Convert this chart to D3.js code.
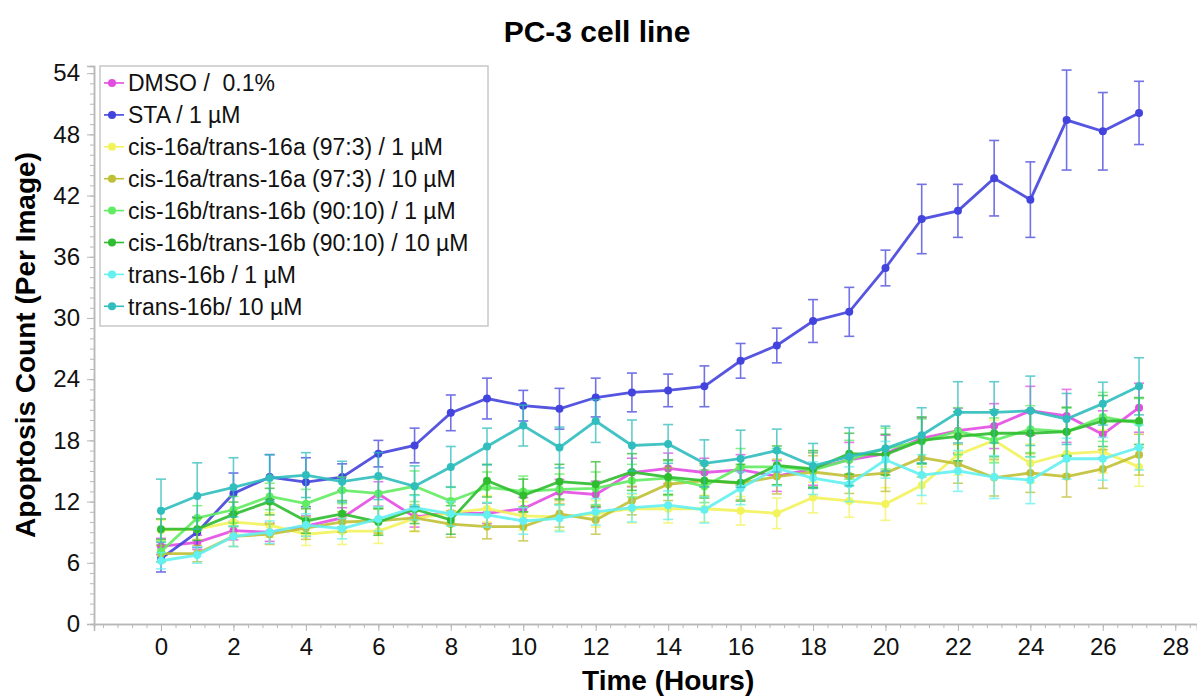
<!DOCTYPE html>
<html>
<head>
<meta charset="utf-8">
<script src="https://cdn.jsdelivr.net/npm/d3@7"></script>
<style>
  body { margin: 0; background: #fff; }
  #chart { width: 1197px; height: 699px; }
  text { font-family: Arial, "Liberation Sans", sans-serif; }
</style>
</head>
<body>
<div id="chart"></div>
<script>
// time points (hours)
const hours = [0,1,2,3,4,5,6,7,8,9,10,11,12,13,14,15,16,17,18,19,20,21,22,23,24,25,26,27];

const seriesNames = [
  "DMSO /  0.1%",
  "STA / 1 \u00b5M",
  "cis-16a/trans-16a (97:3) / 1 \u00b5M",
  "cis-16a/trans-16a (97:3) / 10 \u00b5M",
  "cis-16b/trans-16b (90:10) / 1 \u00b5M",
  "cis-16b/trans-16b (90:10) / 10 \u00b5M",
  "trans-16b / 1 \u00b5M",
  "trans-16b/ 10 \u00b5M"
];
const seriesColors = ["#e34ce3", "#4343dd", "#f3f35c", "#c0c034", "#62ec62", "#2fbd2f", "#62f0f0", "#2fbdbd"];

// mean counts
const dmso   = [7.6, 8.0, 9.15, 9.0, 9.6, 10.4, 12.75, 10.5, 10.9, 10.85, 11.3, 12.97, 12.7, 14.85, 15.25, 14.85, 15.1, 14.5, 15.2, 16.1, 16.7, 18.2, 18.95, 19.4, 20.9, 20.4, 18.6, 21.2];
const sta    = [6.4, 9.0, 12.8, 14.4, 13.9, 14.4, 16.7, 17.5, 20.7, 22.1, 21.4, 21.1, 22.2, 22.7, 22.9, 23.3, 25.8, 27.3, 29.7, 30.6, 34.9, 39.7, 40.5, 43.7, 41.6, 49.4, 48.3, 50.1];
const c16a1  = [9.2, 9.3, 10.0, 9.7, 8.8, 9.1, 9.1, 10.35, 10.9, 11.3, 10.6, 10.5, 10.8, 11.3, 11.3, 11.3, 11.1, 10.85, 12.4, 12.06, 11.76, 13.6, 16.6, 18.0, 15.75, 16.7, 16.9, 15.4];
const c16a10 = [6.9, 6.9, 8.6, 8.8, 9.4, 10.0, 10.1, 10.4, 9.8, 9.55, 9.55, 10.8, 10.2, 12.1, 13.7, 14.05, 13.8, 14.45, 14.9, 14.5, 14.8, 16.3, 15.7, 14.35, 14.8, 14.45, 15.2, 16.6];
const c16b1  = [7.1, 10.4, 11.2, 12.5, 11.8, 13.1, 12.8, 13.5, 12.06, 13.4, 13.0, 13.2, 13.3, 14.05, 14.3, 13.5, 15.4, 15.4, 15.1, 16.1, 17.2, 17.9, 18.9, 18.0, 19.1, 18.85, 20.3, 19.7];
const c16b10 = [9.3, 9.3, 10.75, 12.0, 10.1, 10.8, 10.0, 11.25, 10.2, 14.05, 12.6, 13.95, 13.7, 14.9, 14.4, 14.05, 13.85, 15.55, 15.2, 16.7, 16.6, 18.0, 18.4, 18.7, 18.7, 18.85, 19.9, 19.9];
const t16b1  = [6.2, 6.76, 8.6, 9.0, 9.7, 9.35, 10.3, 11.4, 10.8, 10.7, 10.1, 10.36, 11.0, 11.4, 11.65, 11.2, 13.3, 15.25, 14.3, 13.7, 16.1, 14.6, 15.0, 14.4, 14.1, 16.2, 16.2, 17.3];
const t16b10 = [11.1, 12.55, 13.4, 14.3, 14.6, 13.95, 14.5, 13.5, 15.4, 17.4, 19.45, 17.3, 19.9, 17.5, 17.65, 15.75, 16.2, 17.0, 15.5, 16.4, 17.2, 18.5, 20.75, 20.75, 20.9, 20.1, 21.6, 23.3];

// error bar half-heights (estimated)
const dmsoErr   = [0.8, 0.7, 0.9, 0.9, 1.0, 1.0, 1.2, 1.0, 1.1, 1.0, 1.1, 1.2, 1.3, 1.4, 1.5, 1.4, 1.5, 1.5, 1.6, 1.7, 1.8, 2.0, 2.2, 2.2, 2.4, 2.6, 2.3, 2.4];
const staErr    = [1.3, 1.5, 2.0, 2.2, 2.4, 1.3, 1.3, 1.7, 1.75, 2.0, 1.5, 2.0, 1.9, 1.9, 1.6, 2.0, 1.7, 1.7, 2.1, 2.4, 1.75, 3.4, 2.6, 3.7, 3.7, 4.9, 3.8, 3.1];
const c16a1Err  = [1.0, 1.0, 1.1, 1.2, 1.1, 1.3, 1.2, 1.3, 1.2, 1.3, 1.4, 1.3, 1.3, 1.4, 1.4, 1.3, 1.4, 1.5, 1.5, 1.6, 1.6, 1.8, 2.0, 2.0, 1.9, 2.0, 2.1, 1.9];
const c16a10Err = [0.8, 0.8, 1.0, 1.0, 1.1, 1.0, 1.2, 1.3, 1.3, 1.2, 1.4, 1.3, 1.4, 1.4, 1.6, 1.5, 1.6, 1.7, 1.6, 1.7, 1.8, 1.9, 1.9, 1.8, 1.9, 2.0, 1.9, 2.0];
const c16b1Err  = [1.0, 1.2, 1.3, 1.3, 1.4, 1.3, 1.4, 1.5, 1.4, 1.5, 1.5, 1.5, 1.6, 1.6, 1.7, 1.6, 1.8, 1.8, 1.7, 1.9, 2.0, 2.2, 2.3, 2.2, 2.3, 2.3, 2.4, 2.4];
const c16b10Err = [1.0, 1.1, 1.2, 1.3, 1.2, 1.3, 1.3, 1.4, 1.4, 1.6, 1.6, 1.7, 2.2, 1.8, 1.7, 1.7, 1.8, 1.9, 1.8, 2.0, 2.0, 2.3, 2.4, 2.3, 2.3, 2.4, 2.5, 2.3];
const t16b1Err  = [0.8, 0.8, 1.0, 1.1, 1.1, 1.0, 1.2, 1.2, 1.2, 1.2, 1.3, 1.3, 1.3, 1.4, 1.4, 1.3, 1.6, 1.7, 1.6, 1.7, 1.8, 2.0, 2.0, 2.1, 2.3, 2.0, 2.1, 2.2];
const t16b10Err = [3.1, 3.25, 2.9, 2.3, 2.2, 2.0, 2.3, 2.0, 2.0, 1.8, 2.0, 2.0, 2.1, 2.5, 1.9, 2.3, 2.8, 2.1, 2.2, 2.85, 2.2, 2.7, 3.0, 3.0, 3.4, 2.5, 2.1, 2.8];

const xTicks = [0,2,4,6,8,10,12,14,16,18,20,22,24,26,28];
const yTicks = [0,6,12,18,24,30,36,42,48,54];

class LineChartD3 {
    margin = {top: 66, right: 0, bottom: 75, left: 94};
    svg;
    g;
    width;
    height;
    xScale;
    yScale;
    dotRadius = 4;
    capHalf = 5;

    constructor(el){
        this.el = el;
    }

    create(config){
        this.width = config.width - this.margin.left - this.margin.right;
        this.height = config.height - this.margin.top - this.margin.bottom;

        this.svg = d3.select(this.el).append("svg")
            .attr("width", config.width)
            .attr("height", config.height);
        this.g = this.svg.append("g")
            .attr("transform", "translate(" + this.margin.left + "," + this.margin.top + ")");

        this.xScale = d3.scaleLinear().domain([-1.85, 28.6]).range([0, this.width]);
        this.yScale = d3.scaleLinear().domain([0, 54.7]).range([this.height, 0]);

        this.svg.append("text")
            .attr("x", 597)
            .attr("y", 42)
            .attr("text-anchor", "middle")
            .style("font-size", "30px")
            .style("font-weight", "bold")
            .text("PC-3 cell line");
    }

    renderAxes(){
        const axisColor = "#b8b8b8";
        // minor ticks first
        const xMinor = d3.range(-1.6, 28.61, 0.4);
        const yMinor = d3.range(0, 54.7, 1);

        const xAxisG = this.g.append("g").attr("transform", "translate(0," + this.height + ")");
        xAxisG.call(d3.axisBottom(this.xScale).tickValues(xMinor).tickSize(4).tickFormat(""));
        const xMajor = this.g.append("g").attr("transform", "translate(0," + this.height + ")")
            .call(d3.axisBottom(this.xScale).tickValues(xTicks).tickSize(7).tickPadding(7));
        xMajor.selectAll("text").style("font-size", "24px").attr("fill", "#111");

        const yAxisG = this.g.append("g");
        yAxisG.call(d3.axisLeft(this.yScale).tickValues(yMinor).tickSize(4).tickFormat(""));
        const yMajor = this.g.append("g")
            .call(d3.axisLeft(this.yScale).tickValues(yTicks).tickSize(7).tickPadding(7));
        yMajor.selectAll("text").style("font-size", "24px").attr("fill", "#111");

        this.g.selectAll(".domain").attr("stroke", axisColor).attr("stroke-width", 1.5);
        this.g.selectAll(".tick line").attr("stroke", axisColor);

        this.svg.append("text")
            .attr("x", this.margin.left + this.xScale(14))
            .attr("y", 690)
            .attr("text-anchor", "middle")
            .style("font-size", "28px")
            .style("font-weight", "bold")
            .text("Time (Hours)");

        this.svg.append("text")
            .attr("transform", "translate(35," + (this.margin.top + this.height / 2) + ") rotate(-90)")
            .attr("text-anchor", "middle")
            .style("font-size", "28px")
            .style("font-weight", "bold")
            .text("Apoptosis Count (Per Image)");
    }

    renderSeries(series){
        const line = d3.line()
            .x(d => this.xScale(d.t))
            .y(d => this.yScale(d.v));

        const seriesG = this.g.selectAll(".seriesG")
            .data(series)
            .join("g")
            .attr("class", "seriesG");

        seriesG.each((s, i, nodes) => {
            const sg = d3.select(nodes[i]);
            // error bars
            const errG = sg.append("g")
                .attr("stroke", s.color)
                .attr("stroke-width", 1.6)
                .attr("opacity", 0.75);
            s.points.forEach(p => {
                const x = this.xScale(p.t);
                const y0 = this.yScale(p.v - p.e);
                const y1 = this.yScale(p.v + p.e);
                errG.append("line").attr("x1", x).attr("x2", x).attr("y1", y0).attr("y2", y1);
                errG.append("line").attr("x1", x - this.capHalf).attr("x2", x + this.capHalf).attr("y1", y0).attr("y2", y0);
                errG.append("line").attr("x1", x - this.capHalf).attr("x2", x + this.capHalf).attr("y1", y1).attr("y2", y1);
            });

            sg.append("path")
                .datum(s.points)
                .attr("fill", "none")
                .attr("stroke", s.color)
                .attr("stroke-width", 2.8)
                .attr("opacity", 0.9)
                .attr("d", line);

            sg.selectAll(".dot")
                .data(s.points)
                .join("circle")
                .attr("class", "dot")
                .attr("cx", d => this.xScale(d.t))
                .attr("cy", d => this.yScale(d.v))
                .attr("r", this.dotRadius)
                .attr("fill", s.color);
        });
    }

    renderLegend(series){
        const lg = this.svg.append("g").attr("transform", "translate(100,66)");
        lg.append("rect")
            .attr("width", 388)
            .attr("height", 260)
            .attr("fill", "#fff")
            .attr("stroke", "#c8c8c8")
            .attr("stroke-width", 1.5);

        const item = lg.selectAll(".legItem")
            .data(series)
            .join("g")
            .attr("class", "legItem")
            .attr("transform", (d, i) => "translate(0," + (17 + i * 31.9) + ")");
        item.append("line")
            .attr("x1", 4).attr("x2", 24)
            .attr("stroke", d => d.color)
            .attr("stroke-width", 1.6);
        item.append("circle")
            .attr("cx", 12).attr("r", 4)
            .attr("fill", d => d.color);
        item.append("text")
            .attr("x", 28)
            .attr("dy", "0.36em")
            .style("font-size", "23px")
            .style("white-space", "pre")
            .attr("fill", "#111")
            .text(d => d.name);
    }
}

const means = [dmso, sta, c16a1, c16a10, c16b1, c16b10, t16b1, t16b10];
const errs = [dmsoErr, staErr, c16a1Err, c16a10Err, c16b1Err, c16b10Err, t16b1Err, t16b10Err];
const series = seriesNames.map((name, i) => ({
    name: name,
    color: seriesColors[i],
    points: hours.map((t, j) => ({t: t, v: means[i][j], e: errs[i][j]}))
}));

const chart = new LineChartD3(document.getElementById("chart"));
chart.create({width: 1197, height: 699});
chart.renderAxes();
chart.renderSeries(series);
chart.renderLegend(series);
</script>
</body>
</html>
